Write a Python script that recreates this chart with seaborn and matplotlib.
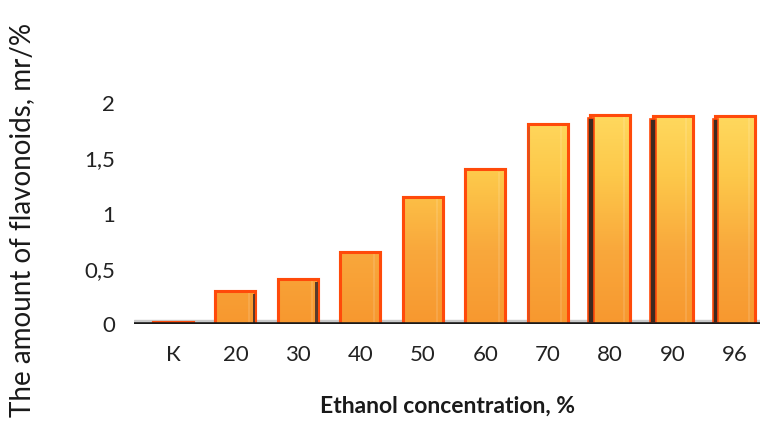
import numpy as np
import pandas as pd
import matplotlib
matplotlib.use("Agg")
import matplotlib.pyplot as plt
from matplotlib.colors import LinearSegmentedColormap
from matplotlib.patches import Rectangle
from matplotlib.ticker import FuncFormatter
import seaborn as sns

# Flavonoid yield by ethanol concentration
categories = ["К", "20", "30", "40", "50", "60", "70", "80", "90", "96"]
flavonoids = [0.02, 0.30, 0.41, 0.65, 1.15, 1.40, 1.81, 1.89, 1.88, 1.88]
y_ticks = [0, 0.5, 1, 1.5, 2]

df = pd.DataFrame({"concentration": categories, "amount": flavonoids})

sns.set_theme(style="white")
plt.rcParams["font.family"] = ["Lato", "DejaVu Sans"]

fig = plt.figure(figsize=(7.63, 4.21), dpi=100)
ax = fig.add_axes([0.176, 0.230, 0.820, 0.578])

sns.barplot(data=df, x="concentration", y="amount", ax=ax,
            color="#f9a23a", width=0.64, edgecolor="#ff4a0a",
            linewidth=2.2, saturation=1, zorder=3)

ax.set_xlim(-0.62, 9.4)
ax.set_ylim(0, 2.2)

# warm vertical gradient inside every bar
cmap = LinearSegmentedColormap.from_list(
    "warm", ["#f7982f", "#f9a83c", "#fdc84a", "#ffdc62"])
grad = np.linspace(0, 1, 256).reshape(-1, 1)
for i, bar in enumerate(ax.patches):
    x0, w, h = bar.get_x(), bar.get_width(), bar.get_height()
    im = ax.imshow(grad, cmap=cmap, origin="lower", aspect="auto",
                   extent=[x0, x0 + w, 0, 2.0], vmin=0, vmax=1.0,
                   zorder=3.5, interpolation="bilinear")
    im.set_clip_path(bar)
    # bright edge on top of the gradient
    ax.add_patch(Rectangle((x0, 0), w, h, fill=False, edgecolor="#ff4a0a",
                           linewidth=2.2, zorder=4))
    # shaded side face giving the bars depth
    if h > 1.85:
        ax.add_patch(Rectangle((x0 - 0.035, 0.015), 0.09, h - 0.04,
                               facecolor="#3e2a20", edgecolor="#ff4a0a",
                               linewidth=1.2, zorder=4.6))
    elif h > 1.7:
        ax.add_patch(Rectangle((x0 + 0.005, 0.015), 0.03, h - 0.04,
                               facecolor="#e0501a", edgecolor="none",
                               zorder=4.6))
    elif 0.2 < h < 0.5:
        ax.add_patch(Rectangle((x0 + w - 0.045, 0.015), 0.04, h - 0.04,
                               facecolor="#5a3a2a", edgecolor="none",
                               zorder=4.5))
    # soft highlight stripe near the right edge
    ax.add_patch(Rectangle((x0 + w * 0.82, 0.02), w * 0.05, max(h - 0.04, 0),
                           facecolor="#ffffff", alpha=0.12,
                           edgecolor="none", zorder=4.2))

# floor of the chart
ax.axhspan(0, 0.035, color="#c9c9c9", zorder=2)
ax.axhline(0, color="#1a1a1a", linewidth=2.6, zorder=5)

for side in ["top", "right", "left", "bottom"]:
    ax.spines[side].set_visible(False)

ax.set_yticks(y_ticks)
ax.yaxis.set_major_formatter(
    FuncFormatter(lambda v, p: f"{v:g}".replace(".", ",")))
ax.tick_params(axis="y", length=0, pad=14, labelsize=16, labelcolor="#222222")
ax.tick_params(axis="x", length=0, pad=15, labelsize=16, labelcolor="#222222")

ax.set_xlabel("Ethanol concentration, %", fontsize=16.5, fontweight="bold",
              color="#1a1a1a", labelpad=22)
ax.set_ylabel("The amount of flavonoids, mr/%", fontsize=20,
              color="#1a1a1a", labelpad=14)
ax.yaxis.set_label_coords(-0.158, 0.43)

fig.savefig("out.png", dpi=100, facecolor="white")
